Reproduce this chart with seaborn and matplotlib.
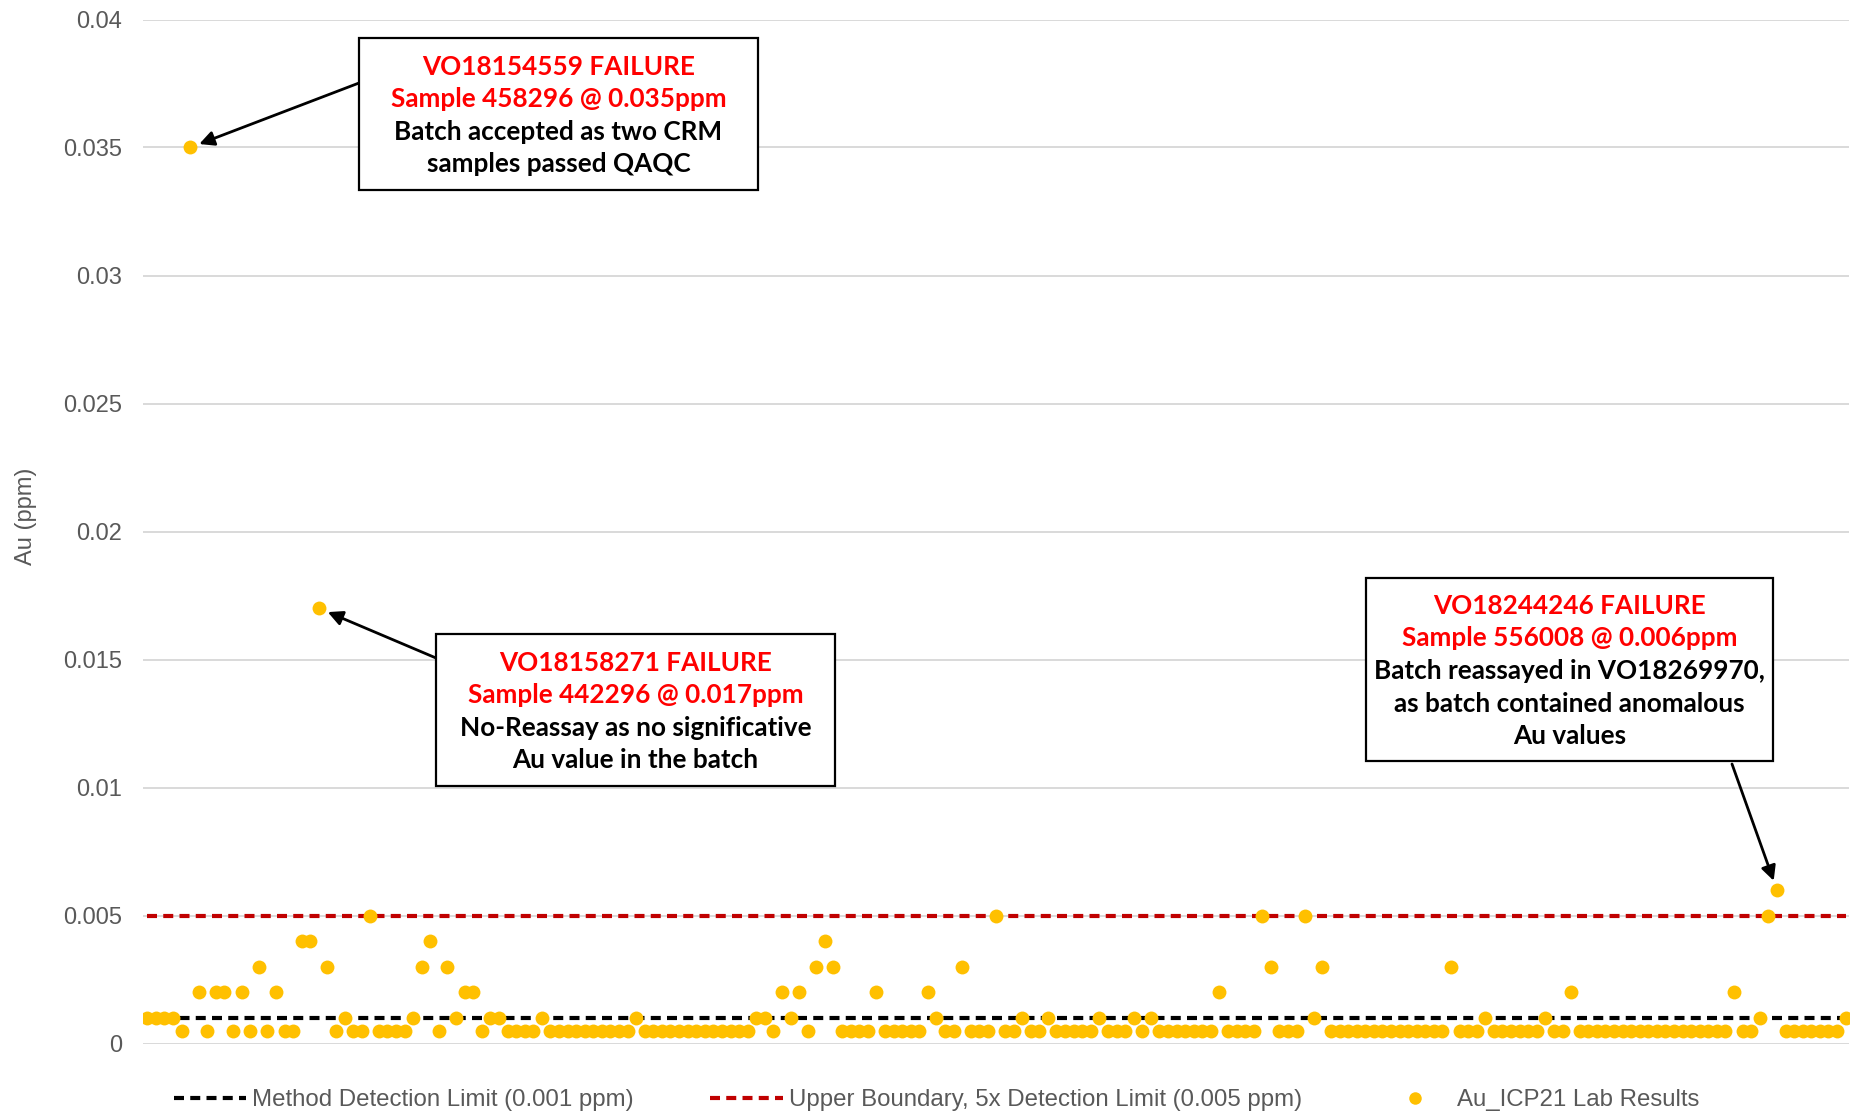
import numpy as np
import pandas as pd
import matplotlib
matplotlib.use('Agg')
import matplotlib.pyplot as plt
import seaborn as sns
from matplotlib.lines import Line2D

# Au_ICP21 lab results (ppm), in sample order
au_ppm = [
    0.001, 0.001, 0.001, 0.001, 0.0005, 0.035, 0.002, 0.0005, 0.002, 0.002,
    0.0005, 0.002, 0.0005, 0.003, 0.0005, 0.002, 0.0005, 0.0005, 0.004, 0.004,
    0.017, 0.003, 0.0005, 0.001, 0.0005, 0.0005, 0.005, 0.0005, 0.0005, 0.0005,
    0.0005, 0.001, 0.003, 0.004, 0.0005, 0.003, 0.001, 0.002, 0.002, 0.0005,
    0.001, 0.001, 0.0005, 0.0005, 0.0005, 0.0005, 0.001, 0.0005, 0.0005, 0.0005,
    0.0005, 0.0005, 0.0005, 0.0005, 0.0005, 0.0005, 0.0005, 0.001, 0.0005, 0.0005,
    0.0005, 0.0005, 0.0005, 0.0005, 0.0005, 0.0005, 0.0005, 0.0005, 0.0005, 0.0005,
    0.0005, 0.001, 0.001, 0.0005, 0.002, 0.001, 0.002, 0.0005, 0.003, 0.004,
    0.003, 0.0005, 0.0005, 0.0005, 0.0005, 0.002, 0.0005, 0.0005, 0.0005, 0.0005,
    0.0005, 0.002, 0.001, 0.0005, 0.0005, 0.003, 0.0005, 0.0005, 0.0005, 0.005,
    0.0005, 0.0005, 0.001, 0.0005, 0.0005, 0.001, 0.0005, 0.0005, 0.0005, 0.0005,
    0.0005, 0.001, 0.0005, 0.0005, 0.0005, 0.001, 0.0005, 0.001, 0.0005, 0.0005,
    0.0005, 0.0005, 0.0005, 0.0005, 0.0005, 0.002, 0.0005, 0.0005, 0.0005, 0.0005,
    0.005, 0.003, 0.0005, 0.0005, 0.0005, 0.005, 0.001, 0.003, 0.0005, 0.0005,
    0.0005, 0.0005, 0.0005, 0.0005, 0.0005, 0.0005, 0.0005, 0.0005, 0.0005, 0.0005,
    0.0005, 0.0005, 0.003, 0.0005, 0.0005, 0.0005, 0.001, 0.0005, 0.0005, 0.0005,
    0.0005, 0.0005, 0.0005, 0.001, 0.0005, 0.0005, 0.002, 0.0005, 0.0005, 0.0005,
    0.0005, 0.0005, 0.0005, 0.0005, 0.0005, 0.0005, 0.0005, 0.0005, 0.0005, 0.0005,
    0.0005, 0.0005, 0.0005, 0.0005, 0.0005, 0.002, 0.0005, 0.0005, 0.001, 0.005,
    0.006, 0.0005, 0.0005, 0.0005, 0.0005, 0.0005, 0.0005, 0.0005, 0.001,
]
sample_no = list(range(1, len(au_ppm) + 1))

detection_limit = 0.001
upper_boundary = 0.005

y_ticks = [0, 0.005, 0.01, 0.015, 0.02, 0.025, 0.03, 0.035, 0.04]
y_tick_labels = ['0', '0.005', '0.01', '0.015', '0.02', '0.025', '0.03', '0.035', '0.04']

legend_labels = ['Method Detection Limit (0.001 ppm)',
                 'Upper Boundary, 5x Detection Limit (0.005 ppm)',
                 'Au_ICP21 Lab Results']

# failure call-outs: sample number, red header lines, black comment lines
failures = [
    (6, ['VO18154559 FAILURE', 'Sample 458296 @ 0.035ppm'],
        ['Batch accepted as two CRM', 'samples passed QAQC']),
    (21, ['VO18158271 FAILURE', 'Sample 442296 @ 0.017ppm'],
         ['No-Reassay as no significative', 'Au value in the batch']),
    (191, ['VO18244246 FAILURE', 'Sample 556008 @ 0.006ppm'],
          ['Batch reassayed in VO18269970,', 'as batch contained anomalous', 'Au values']),
]
# box layout in figure pixels: (left, top, right, bottom, arrow start x, arrow start y)
box_px = [
    (359, 38, 758, 190, 359, 83),
    (436, 634, 835, 786, 436, 658),
    (1366, 578, 1773, 761, 1732, 764),
]

W, H = 1858, 1115
sns.set_theme(style='white')
plt.rcParams['font.family'] = ['Liberation Sans', 'DejaVu Sans']

fig = plt.figure(figsize=(W / 100, H / 100), dpi=100)
ax = fig.add_axes([143 / W, 1 - 1043.5 / H, 1706 / W, 1024 / H])

df = pd.DataFrame({'sample': sample_no, 'au': au_ppm})

ax.plot([sample_no[0], sample_no[-1]], [detection_limit] * 2, color='black', lw=3,
        linestyle=(0, (2.4, 1.5)), zorder=2)
ax.plot([sample_no[0], sample_no[-1]], [upper_boundary] * 2, color='#C00000', lw=3,
        linestyle=(0, (2.4, 1.5)), zorder=2)
sns.scatterplot(data=df, x='sample', y='au', color='#FFC000', s=100, linewidth=0,
                ax=ax, zorder=3, legend=False)

ax.set_xlim(0.5, 199.4)
ax.set_ylim(0, 0.04)
ax.set_yticks(y_ticks)
ax.set_yticklabels(y_tick_labels)
ax.set_xticks([])
ax.set_xlabel('')
ax.set_ylabel('Au (ppm)', fontsize=17, color='#595959')
ax.yaxis.set_label_coords(-0.062, 0.515)
ax.tick_params(axis='y', length=0, pad=15, labelsize=17, labelcolor='#595959')
ax.grid(axis='y', color='#D9D9D9', lw=1.4, zorder=0)
ax.set_axisbelow(True)
for s in ax.spines.values():
    s.set_visible(False)

handles = [
    Line2D([], [], color='black', lw=3, linestyle=(0, (2.4, 1.5))),
    Line2D([], [], color='#C00000', lw=3, linestyle=(0, (2.4, 1.5))),
    Line2D([], [], color='#FFC000', marker='o', linestyle='', markersize=9, markeredgewidth=0),
]
fig.legend(handles, legend_labels, loc='center', bbox_to_anchor=(0.504, 0.0135), ncol=3,
           frameon=False, fontsize=17.3, labelcolor='#595959', handlelength=3.0,
           handletextpad=0.25, columnspacing=3.2)

for (idx, red_lines, black_lines), (x0, y0, x1, y1, ax_x, ax_y) in zip(failures, box_px):
    rect = plt.Rectangle((x0 / W, 1 - y1 / H), (x1 - x0) / W, (y1 - y0) / H,
                         transform=fig.transFigure, facecolor='white',
                         edgecolor='black', lw=1.6, zorder=1)
    fig.add_artist(rect)
    lines = [(t, '#FF0000') for t in red_lines] + [(t, 'black') for t in black_lines]
    step = 32.5
    total = step * (len(lines) - 1)
    cy0 = (y0 + y1) / 2 - total / 2 + 1.5
    for k, (t, c) in enumerate(lines):
        fig.text((x0 + x1) / 2 / W, 1 - (cy0 + k * step) / H, t, ha='center', va='center',
                 color=c, fontsize=18.8, fontweight='bold', family=['Lato', 'DejaVu Sans'],
                 zorder=3)
    ax.annotate('', xy=(idx, au_ppm[idx - 1]), xytext=(ax_x / W, 1 - ax_y / H),
                textcoords='figure fraction',
                arrowprops=dict(arrowstyle='-|>', color='black', lw=2, shrinkA=0, shrinkB=7,
                                mutation_scale=22))

fig.savefig('out.png', dpi=100)
